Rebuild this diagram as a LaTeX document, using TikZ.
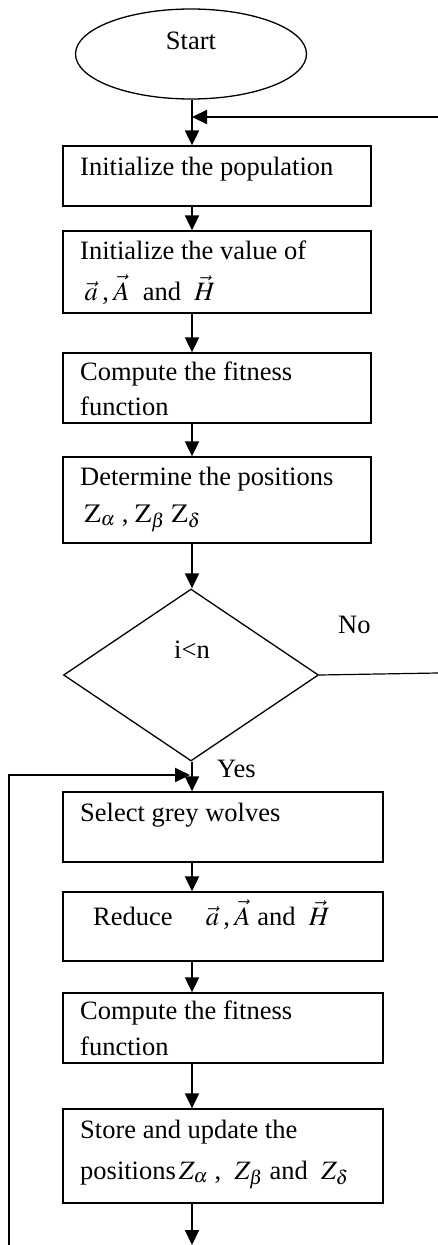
\documentclass[tikz,border=0pt]{standalone}
\usepackage{mathptmx}
\usepackage[no-math]{fontspec}
\setmainfont{Liberation Serif}
\usetikzlibrary{shapes.geometric,arrows.meta}

\tikzset{
  procbox/.style={draw, line width=1.3pt, inner sep=0pt},
  boxtext/.style={anchor=base west, inner sep=0pt, align=left,
    font=\fontsize{26.5}{32}\selectfont},
  flow/.style={line width=2pt, -{Triangle[width=14pt,length=15pt]}},
}

\begin{document}
\begin{tikzpicture}[x=1pt,y=-1pt]
            \useasboundingbox (0,0) rectangle (438,1245);

            % start and the first boxes (multi-line texts sit on their last line)
            \node[draw, ellipse, line width=1.3pt, minimum width=231pt, minimum height=90pt, inner sep=0pt] (start) at (191,54) {};
            \node[boxtext, anchor=base] (startT) at (191,49) {Start};

            \node[procbox, minimum width=308pt, minimum height=60pt] (init) at (217,176) {};
            \node[boxtext] (initT) at (80,175) {Initialize the population};

            \node[procbox, minimum width=308pt, minimum height=82pt] (val) at (217,272) {};
            \node[boxtext] (valT) at (80,300) {Initialize the value of\\[9pt]
              \,$\vec{a}$\,,\,$\vec{A}$~ and ~$\vec{H}$};

            \node[procbox, minimum width=308pt, minimum height=70pt] (fit) at (217,388) {};
            \node[boxtext] (fitT) at (80,415) {Compute the fitness\\[3pt]function};

            \node[procbox, minimum width=308pt, minimum height=86pt] (pos) at (217,500) {};
            \node[boxtext] (posT) at (80,522) {Determine the positions\\[5pt]
              \,$\mathrm{Z}_\alpha$ , $\mathrm{Z}_\beta$ $\mathrm{Z}_\delta$};

            % the test
            \node[draw, diamond, line width=1.3pt, minimum width=255pt, minimum height=172pt, inner sep=0pt] (cond) at (191,675) {};
            \node[boxtext, anchor=base] (condT) at (192,658) {i<n};
            \node[boxtext] (no) at (338,633) {No};
            \node[boxtext] (yes) at (217,777) {Yes};

            % the loop boxes
            \node[procbox, minimum width=320pt, minimum height=70pt] (sel) at (223,827) {};
            \node[boxtext] (selT) at (80,821) {Select grey wolves};

            \node[procbox, minimum width=320pt, minimum height=69pt] (red) at (223,926.5) {};
            \node[boxtext] (redT) at (93,925) {Reduce \quad$\vec{a}$\,,\,$\vec{A}$ and ~$\vec{H}$};

            \node[procbox, minimum width=320pt, minimum height=70pt] (fit2) at (223,1028) {};
            \node[boxtext] (fit2T) at (80,1055) {Compute the fitness\\[4pt]function};

            \node[procbox, minimum width=320pt, minimum height=94pt] (store) at (223,1156) {};
            \node[boxtext] (storeT) at (80,1179) {Store and update the\\[9pt]
              positions$\,Z_\alpha$ , ~$Z_\beta$ and ~$Z_\delta$};

            \coordinate (axis) at (192,0);
            \coordinate (inR) at (438,117);
            \coordinate (noR) at (438,673);
            \coordinate (yesJ) at (190,775);
            \coordinate (backB) at (9,1245);
            \coordinate (outB) at (192,1245);

            % arrows
            \draw[flow] (start.south -| axis) -- (init.north -| axis);
            \draw[flow] (init.south -| axis) -- (val.north -| axis);
            \draw[flow] (val.south -| axis) -- (fit.north -| axis);
            \draw[flow] (fit.south -| axis) -- (pos.north -| axis);
            \draw[flow] (pos.south -| axis) -- (cond.north -| axis);
            \draw[flow] (cond.south -| axis) -- (sel.north -| axis);
            \draw[flow] (sel.south -| axis) -- (red.north -| axis);
            \draw[flow] (red.south -| axis) -- (fit2.north -| axis);
            \draw[flow] (fit2.south -| axis) -- (store.north -| axis);
            \draw[flow] (store.south -| axis) -- (outB);

            \draw[flow] (inR) -- (inR -| axis);
            \draw[line width=1.2pt] (cond.east) -- (noR);
            \draw[flow] (backB) |- (yesJ);
        \end{tikzpicture}
\end{document}
